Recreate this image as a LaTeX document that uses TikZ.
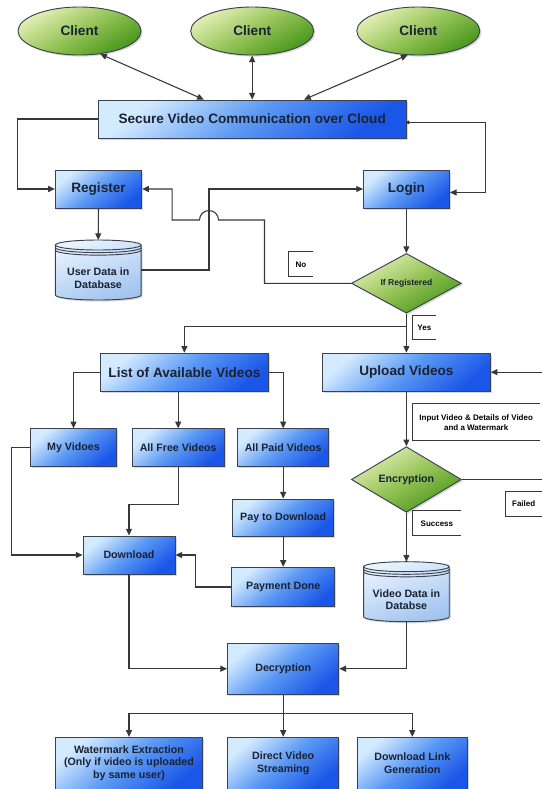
\documentclass[tikz,border=0pt]{standalone}
\usepackage{fontspec}
\setmainfont{Liberation Sans}
\usetikzlibrary{arrows.meta,shapes.geometric,shadows}

\definecolor{boxtop}{HTML}{D4EBFF}
\definecolor{boxmid}{HTML}{5A98F3}
\definecolor{boxbot}{HTML}{1A56E8}
\definecolor{greentop}{HTML}{E4EFB6}
\definecolor{greenmid}{HTML}{96C458}
\definecolor{greenbot}{HTML}{48961A}
\definecolor{dbtop}{HTML}{E8F3FF}
\definecolor{dbbot}{HTML}{A2C4EF}
\definecolor{linegray}{HTML}{383838}
\definecolor{edgegray}{HTML}{3A4150}
\definecolor{textnavy}{HTML}{1A2233}

% cylinder drawn round an empty node
\newcommand{\dbcyl}[1]{%
  \path[draw=edgegray,line width=0.7pt,top color=dbtop,bottom color=dbbot,shading angle=20,
    drop shadow={shadow xshift=1.2pt,shadow yshift=-1.2pt,opacity=0.3}]
    ([yshift=-3.75pt]#1.north west) -- ([yshift=3.75pt]#1.south west)
    arc[start angle=180,end angle=360,x radius=32.15pt,y radius=3.75pt]
    -- ([yshift=-3.75pt]#1.north east)
    arc[start angle=0,end angle=180,x radius=32.15pt,y radius=3.75pt] -- cycle;
  \foreach \dy in {3.75,5.7,7.6}
    \draw[edgegray,line width=0.7pt] ([yshift=-\dy pt]#1.north west)
      arc[start angle=180,end angle=360,x radius=32.15pt,y radius=3.75pt];
}

\begin{document}
\begin{tikzpicture}[x=0.75pt,y=0.75pt,
    every node/.style={text=textnavy},
    box/.style={rectangle,draw=edgegray,line width=0.7pt,
      top color=boxtop,bottom color=boxbot,middle color=boxmid,shading angle=40,
      drop shadow={shadow xshift=1.2pt,shadow yshift=-1.2pt,opacity=0.3},
      minimum height=28.5pt,inner sep=1pt,align=center,
      font=\fontsize{8}{9.2}\selectfont\bfseries},
    bigbox/.style={box,font=\fontsize{10.2}{12}\selectfont\bfseries},
    client/.style={ellipse,draw=edgegray,line width=0.7pt,
      top color=greentop,bottom color=greenbot,middle color=greenmid,shading angle=30,
      drop shadow={shadow xshift=1.2pt,shadow yshift=-1.2pt,opacity=0.3},
      minimum width=92.25pt,minimum height=36pt,inner sep=0pt,
      font=\fontsize{10.2}{12}\selectfont\bfseries},
    decision/.style={diamond,draw=edgegray,line width=0.7pt,
      top color=greentop,bottom color=greenbot,middle color=greenmid,shading angle=30,
      drop shadow={shadow xshift=1.2pt,shadow yshift=-1.2pt,opacity=0.3},
      minimum width=82.5pt,minimum height=37.5pt,inner sep=0pt},
    dbnode/.style={minimum width=64.3pt,minimum height=45pt,inner sep=0pt,outer sep=0pt},
    dbtext/.style={inner sep=0pt,align=center,font=\fontsize{8}{9.3}\selectfont\bfseries},
    note/.style={inner sep=0pt,align=center,text=black,
      font=\fontsize{6}{7.4}\selectfont\bfseries},
    line/.style={draw=linegray,line width=0.8pt},
    arr/.style={line,-{Triangle[length=5pt,width=4.5pt]}},
    both/.style={line,{Triangle[length=5pt,width=4.5pt]}-{Triangle[length=5pt,width=4.5pt]}}]

  \path[use as bounding box,fill=white] (0,0) rectangle (542,-789);

  \node[client] (c1) at (79.5,-31) {Client};
  \node[client] (c2) at (252.2,-31) {Client};
  \node[client] (c3) at (418.3,-31) {Client};

  \node[bigbox,minimum width=230.8pt] (secure) at (252.2,-119) {Secure Video Communication over Cloud};
  \node[bigbox,minimum width=64.8pt] (reg) at (98.5,-189) {Register};
  \node[bigbox,minimum width=64.5pt] (login) at (406.4,-189) {Login};

  \node[dbnode] (udb) at (98.2,-270) {};
  \dbcyl{udb}
  \node[dbtext] (udbtext) at ([yshift=-6pt]udb.center) {User Data in\\Database};

  \node[decision,font=\fontsize{6.4}{7.5}\selectfont\bfseries] (ifreg) at (406.4,-283.3) {If Registered};

  \node[bigbox,minimum width=126.3pt] (list) at (184.4,-372.2) {List of Available Videos};
  \node[bigbox,minimum width=125.8pt] (upload) at (406.4,-372.2) {Upload Videos};

  \node[box,minimum width=64.5pt] (myvid) at (73.5,-447.8) {My Vidoes};
  \node[box,minimum width=68.7pt] (freevid) at (178.2,-447.8) {All Free Videos};
  \node[box,minimum width=68.5pt] (paidvid) at (283.2,-447.8) {All Paid Videos};

  \node[decision,minimum width=82.5pt,minimum height=36.75pt,
    font=\fontsize{8}{9.2}\selectfont\bfseries] (enc) at (406.4,-479.5) {Encryption};

  \node[box,minimum width=75.5pt,minimum height=27.75pt] (paydl) at (283.2,-517.5) {Pay to Download};
  \node[box,minimum width=69pt] (dl) at (129,-555) {Download};
  \node[box,minimum width=77.5pt,minimum height=29.5pt] (paydone) at (283.2,-587) {Payment Done};

  \node[dbnode] (vdb) at (406.4,-591.7) {};
  \dbcyl{vdb}
  \node[dbtext] (vdbtext) at ([yshift=-6.2pt]vdb.center) {Video Data in\\Databse};

  \node[box,minimum width=83.5pt,minimum height=38pt] (dec) at (283.2,-668.7) {Decryption};

  \node[box,minimum width=110.7pt,minimum height=38.8pt] (wm) at (129,-763.2)
    {Watermark Extraction\\(Only if video is uploaded\\by same user)};
  \node[box,minimum width=83pt,minimum height=38.8pt] (stream) at (283.2,-763.2) {Direct Video\\Streaming};
  \node[box,minimum width=83pt,minimum height=38.8pt] (link) at (412.3,-763.2) {Download Link\\Generation};

  % side notes
  \node[note,minimum width=18pt,minimum height=18.5pt] (nolbl) at (301,-264.3) {No};
  \node[note,minimum width=17pt,minimum height=18pt] (yeslbl) at (424.3,-327.3) {Yes};
  \node[note,minimum width=94.7pt,minimum height=27.5pt] (inlbl) at (476.2,-422.3)
    {Input Video \& Details of Video\\and a Watermark};
  \node[note,minimum width=27.5pt,minimum height=18pt] (faillbl) at (523.7,-504) {Failed};
  \node[note,minimum width=35.8pt,minimum height=18.5pt] (succlbl) at (436.9,-523.3) {Success};
  \foreach \n in {nolbl,yeslbl,inlbl,faillbl,succlbl}
    \draw[linegray,line width=0.75pt] (\n.north east) -- (\n.north west) -- (\n.south west) -- (\n.south east);

  % connectors
  \draw[both] (c1.-48) -- ([xshift=-36.3pt]secure.north);
  \draw[both] (c2.south) -- (secure.north);
  \draw[both] (c3.246) -- ([xshift=38.9pt]secure.north);

  \draw[arr] (secure.west) -- ++(-80.5,0) |- (reg.west);
  \draw[line,{Circle[length=2.6pt]}-{Triangle[length=5pt,width=4.5pt]}]
    ([yshift=-2.5pt]secure.east) -- ++(79.1,0) |- ([yshift=-2.6pt]login.east);

  \draw[arr] (reg.south) -- (udb.north);
  \draw[arr] (udb.east) -- (209,-270) |- (login.west);
  \draw[arr] (login.south) -- (ifreg.north);
  \draw[arr] (ifreg.west) -| (264.5,-220) -- (218.5,-220)
    arc[start angle=0,end angle=180,radius=9.5] -- (172.2,-220) |- (reg.east);

  \draw[arr] (ifreg.south) -- (upload.north);
  \draw[arr] (ifreg.south) -- ++(0,-13) -| (list.north);

  \draw[arr] (list.west) -| (myvid.north);
  \draw[arr] (list.south -| freevid.north) -- (freevid.north);
  \draw[arr] (list.east) -| (paidvid.north);

  \draw[arr] (upload.south) -- (enc.north);
  \draw[arr] (enc.east) -- ++(82.5,0) |- (upload.east);
  \draw[arr] (enc.south) -- (vdb.north);

  \draw[arr] (paidvid.south) -- (paydl.north);
  \draw[arr] (paydl.south) -- (paydone.north);
  \draw[arr] (freevid.south) -- ++(0,-37.3) -| (dl.north);
  \draw[arr] (myvid.west) -- ++(-18.3,0) |- (dl.west);
  \draw[arr] (paydone.west) -- ++(-35.4,0) |- (dl.east);

  \draw[arr] (dl.south) |- (dec.west);
  \draw[arr] (vdb.south) |- (dec.east);

  \draw[arr] (dec.south) -- ++(0,-18.7) -| (wm.north);
  \draw[arr] (dec.south) -- (stream.north);
  \draw[arr] (dec.south) -- ++(0,-18.7) -| (link.north);
\end{tikzpicture}
\end{document}
